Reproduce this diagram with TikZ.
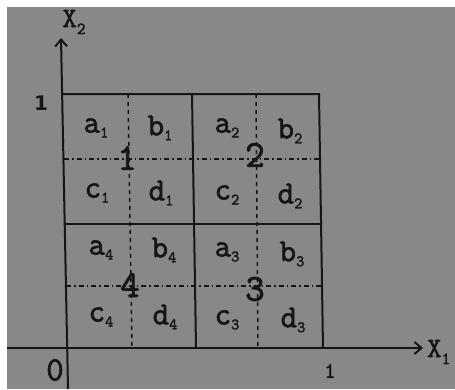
\documentclass[tikz,border=0pt]{standalone}
\usepackage{fontspec}
\usetikzlibrary{arrows.meta}
\newfontfamily\inkfont{Latin Modern Mono}[FakeBold=2]
\newfontfamily\tickfont{DejaVu Sans}
\definecolor{paper}{RGB}{136,136,136}
\definecolor{ink}{RGB}{22,22,22}
\newcommand{\lab}[2]{{\fontsize{32}{32}\selectfont #1}\raisebox{-5pt}{\fontsize{16}{16}\selectfont #2}}
\tikzset{
  solid line/.style={ink, line width=2pt},
  vdash/.style={ink, line width=1.5pt, dash pattern=on 4pt off 4pt},
  hdash/.style={ink, line width=1.5pt, dash pattern=on 5pt off 3pt on 1.5pt off 3pt},
  cell/.style={ink, inner sep=0pt, font=\inkfont},
  big/.style={ink, inner sep=0pt, font=\inkfont\fontsize{38}{38}\selectfont},
  tick/.style={ink, inner sep=0pt, font=\tickfont\bfseries\fontsize{20}{20}\selectfont},
  axis/.style={ink, line width=2pt, -{Straight Barb[length=7pt,width=12pt,line width=2pt]}}
}
\begin{document}
\begin{tikzpicture}[x=1pt,y=-1pt]
\useasboundingbox (0,0) rectangle (455,389);
\fill[white] (0,0) rectangle (455,389);
\fill[paper] (7,7) rectangle (455,389);
% coordinates
\coordinate (ybot) at (68,389);
\coordinate (ytop) at (61,38);
\coordinate (xl) at (7,348);
\coordinate (xr) at (423,348);
% outer square corners
\coordinate (TL) at (63,94);
\coordinate (TR) at (319,94);
\coordinate (BR) at (323,348);
\coordinate (TM) at (192,94);
\coordinate (BM) at (196,348);
\coordinate (LM) at (65,224);
\coordinate (RM) at (321,224);
% solid grid
\draw[solid line] (TL) -- (TR) -- (BR);
\draw[solid line] (TM) -- (BM);
\draw[solid line] (LM) -- (RM);
% dashed lines
\coordinate (v1t) at (128,94);
\coordinate (v1b) at (132,348);
\coordinate (v2t) at (256,94);
\coordinate (v2b) at (258,348);
\draw[vdash] (v1t) -- (v1b);
\draw[vdash] (v2t) -- (v2b);
\coordinate (h1l) at (64,159);
\coordinate (h1r) at (320,159);
\coordinate (h2l) at (66,286);
\coordinate (h2r) at (322,286);
\draw[hdash] (h1l) -- (h1r);
\draw[hdash] (h2l) -- (h2r);
% axes
\draw[axis] (ybot) -- (ytop);
\draw[axis] (xl) -- (xr);
% axis labels
\node[cell, font=\inkfont\fontsize{28}{28}\selectfont] (X2) at (74,22) {X\raisebox{-7pt}{\fontsize{17}{17}\selectfont 2}};
\node[cell, font=\inkfont\fontsize{28}{28}\selectfont, anchor=west] (X1) at (427,352) {X\raisebox{-7pt}{\fontsize{17}{17}\selectfont 1}};
\node[tick] (one y) at (41,103) {1};
\node[cell, font=\inkfont\fontsize{34}{34}\selectfont] (zero) at (55,370) {0};
\node[cell, font=\inkfont\fontsize{22}{22}\selectfont] (one x) at (330,371) {1};
% cell labels
\node[cell] (a1) at (96,128) {\lab{a}{1}};
\node[cell] (b1) at (160,128) {\lab{b}{1}};
\node[cell] (a2) at (227,128) {\lab{a}{2}};
\node[cell] (b2) at (290,131) {\lab{b}{2}};
\node[cell] (c1) at (97,193) {\lab{c}{1}};
\node[cell] (d1) at (161,193) {\lab{d}{1}};
\node[cell] (c2) at (227,195) {\lab{c}{2}};
\node[cell] (d2) at (290,196) {\lab{d}{2}};
\node[cell] (a4) at (101,250) {\lab{a}{4}};
\node[cell] (b4) at (164,250) {\lab{b}{4}};
\node[cell] (a3) at (227,252) {\lab{a}{3}};
\node[cell] (b3) at (292,254) {\lab{b}{3}};
\node[cell] (c4) at (101,317) {\lab{c}{4}};
\node[cell] (d4) at (165,317) {\lab{d}{4}};
\node[cell] (c3) at (227,320) {\lab{c}{3}};
\node[cell] (d3) at (293,320) {\lab{d}{3}};
% block numbers
\node[big] (n1) at (127,158) {1};
\node[big] (n2) at (255,155) {2};
\node[big] (n4) at (130,285) {4};
\node[big] (n3) at (255,289) {3};
\end{tikzpicture}
\end{document}
